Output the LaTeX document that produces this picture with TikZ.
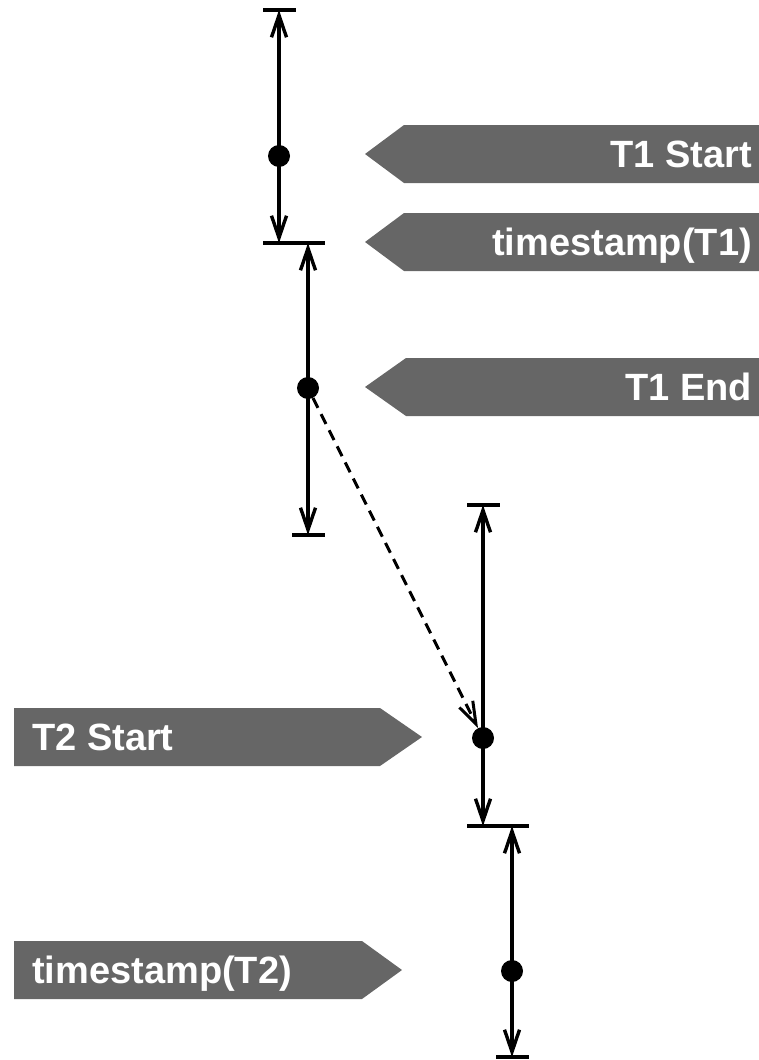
\documentclass[tikz,border=0pt]{standalone}
\usepackage{fontspec}
\setmainfont{Liberation Sans}
\usetikzlibrary{arrows.meta}
\definecolor{bannergray}{HTML}{666666}
\begin{document}
\begin{tikzpicture}[x=1pt,y=-1pt,
  barb/.tip={Straight Barb[length=22pt,width=15pt]},
  span/.style={line width=3.4pt,{barb}-{barb}},
  tick/.style={fill=black,inner sep=0pt,minimum width=33pt,minimum height=3.4pt,draw=none},
  event/.style={circle,fill=black,inner sep=0pt,minimum size=22pt},
  flow/.style={line width=3pt,dash pattern=on 11pt off 7pt,-{barb}},
  banner/.style={fill=bannergray},
  label/.style={text=white,font=\bfseries\fontsize{38}{40}\selectfont,inner sep=0pt}
]
\useasboundingbox (0,0) rectangle (759,1060);

% banners
\fill[banner] (765,125) -- (404,125) -- (365,154) -- (404,183) -- (765,183) -- cycle;
\fill[banner] (765,213) -- (404,213) -- (365,242) -- (404,271) -- (765,271) -- cycle;
\fill[banner] (765,358) -- (406,358) -- (365,387) -- (406,416) -- (765,416) -- cycle;
\fill[banner] (14,708) -- (380,708) -- (422,737) -- (380,766) -- (14,766) -- cycle;
\fill[banner] (14,941) -- (362,941) -- (402,970) -- (362,999) -- (14,999) -- cycle;

\node[label,anchor=base east] (l1) at (752,167) {T1 Start};
\node[label,anchor=base east] (l2) at (752,255) {timestamp(T1)};
\node[label,anchor=base east] (l3) at (752,400) {T1 End};
\node[label,anchor=base west] (l4) at (32,750) {T2 Start};
\node[label,anchor=base west] (l5) at (32,983) {timestamp(T2)};

% interval boundaries
\node[tick] (a0) at (279,10) {};
\node[tick] (a1) at (279,243) {};
\node[tick] (b0) at (308,243) {};
\node[tick] (b1) at (308,535) {};
\node[tick] (c0) at (483,505) {};
\node[tick] (c1) at (483,826) {};
\node[tick] (d0) at (512,826) {};
\node[tick] (d1) at (512,1057) {};

% intervals
\draw[span] (a0.center) -- (a1.center);
\draw[span] (b0.center) -- (b1.center);
\draw[span] (c0.center) -- (c1.center);
\draw[span] (d0.center) -- (d1.center);

% events
\node[event] (e1) at (279,156) {};
\node[event] (e2) at (308,388) {};
\node[event] (e3) at (483,738) {};
\node[event] (e4) at (512,971) {};

\draw[flow] (e2) -- (e3);
\end{tikzpicture}
\end{document}
